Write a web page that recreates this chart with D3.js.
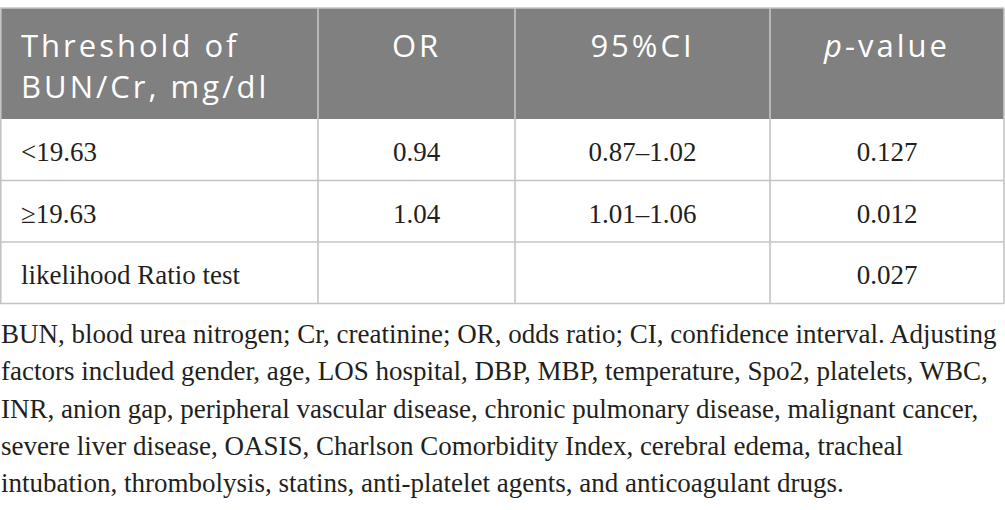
<!DOCTYPE html>
<html>
<head>
<meta charset="utf-8">
<script src="https://cdn.jsdelivr.net/npm/d3@7"></script>
<style>
  body { margin: 0; background: #fff; }
  svg { display: block; }
</style>
</head>
<body>
<svg></svg>
<script>
var width = 1005;
var height = 510;

// table contents
var headers = [["Threshold of", "BUN/Cr, mg/dl"], ["OR"], ["95%CI"], ["p-value"]];
var thresholds = ["<19.63", "\u226519.63", "likelihood Ratio test"];
var oddsRatios = ["0.94", "1.04", ""];
var confIntervals = ["0.87\u20131.02", "1.01\u20131.06", ""];
var pValues = ["0.127", "0.012", "0.027"];
var footnote = [
  "BUN, blood urea nitrogen; Cr, creatinine; OR, odds ratio; CI, confidence interval. Adjusting",
  "factors included gender, age, LOS hospital, DBP, MBP, temperature, Spo2, platelets, WBC,",
  "INR, anion gap, peripheral vascular disease, chronic pulmonary disease, malignant cancer,",
  "severe liver disease, OASIS, Charlson Comorbidity Index, cerebral edema, tracheal",
  "intubation, thrombolysis, statins, anti-platelet agents, and anticoagulant drugs."
];

var rows = thresholds.map(function(t, i) {
  return [t, oddsRatios[i], confIntervals[i], pValues[i]];
});

// layout
var colEdges = [0, 318, 515, 770, 1004];
var tableTop = 8, headerBottom = 119, rowH = 61.5;
var gridColor = "#c4c4c4";
var serif = "'Liberation Serif', 'Times New Roman', serif";
var sans = "'Open Sans', 'Noto Sans', sans-serif";

var svg = d3.select("svg")
    .attr("width", width)
    .attr("height", height);

var y = d3.scaleLinear()
    .domain([0, rows.length])
    .range([headerBottom, headerBottom + rowH * rows.length]);

function cellX(j) {
  return j == 0 ? 21 : (colEdges[j] + colEdges[j + 1]) / 2;
}

// header band
svg.append("rect")
    .attr("x", 0).attr("y", tableTop)
    .attr("width", colEdges[4]).attr("height", headerBottom - tableTop)
    .attr("fill", "#808080");

// header text
var head = svg.append("g").selectAll("text")
    .data(headers)
    .enter().append("text")
    .attr("font-family", sans)
    .attr("font-size", 31)
    .attr("letter-spacing", 3)
    .attr("fill", "#fff")
    .attr("text-anchor", function(d, i) { return i == 0 ? "start" : "middle"; })
    .attr("transform", function(d, i) {
      return "translate(" + cellX(i) + ",57)";
    });

head.each(function(d) {
  var t = d3.select(this);
  d.forEach(function(line, j) {
    if (line == "p-value") {
      // italic p
      t.append("tspan").attr("font-style", "italic").text("p");
      t.append("tspan").text("-value");
    } else {
      t.append("tspan").attr("x", 0).attr("dy", j == 0 ? 0 : 41).text(line);
    }
  });
});

// body cells
var body = svg.append("g");
rows.forEach(function(r, i) {
  body.selectAll(null)
      .data(r)
      .enter().append("text")
      .attr("font-family", serif)
      .attr("font-size", 27)
      .attr("fill", "#231f20")
      .attr("text-anchor", function(d, j) { return j == 0 ? "start" : "middle"; })
      .attr("x", function(d, j) { return cellX(j); })
      .attr("y", y(i) + 42)
      .text(function(d) { return d; });
});

// grid lines
var grid = svg.append("g")
    .attr("stroke", gridColor)
    .attr("stroke-width", 1.6);

grid.selectAll(".h")
    .data(d3.range(1, rows.length + 1))
    .enter().append("line")
    .attr("x1", 0).attr("x2", colEdges[4])
    .attr("y1", function(d) { return y(d); })
    .attr("y2", function(d) { return y(d); });

grid.append("line")
    .attr("x1", 0).attr("x2", colEdges[4])
    .attr("y1", tableTop).attr("y2", tableTop);

grid.selectAll(".v")
    .data(colEdges)
    .enter().append("line")
    .attr("x1", function(d) { return d == 0 ? 0.8 : d; })
    .attr("x2", function(d) { return d == 0 ? 0.8 : d; })
    .attr("y1", tableTop)
    .attr("y2", y(rows.length));

// footnote
svg.append("g").selectAll("text")
    .data(footnote)
    .enter().append("text")
    .attr("font-family", serif)
    .attr("font-size", 27)
    .attr("fill", "#231f20")
    .attr("x", 1)
    .attr("y", function(d, i) { return 343 + i * 37.3; })
    .text(function(d) { return d; });
</script>
</body>
</html>
